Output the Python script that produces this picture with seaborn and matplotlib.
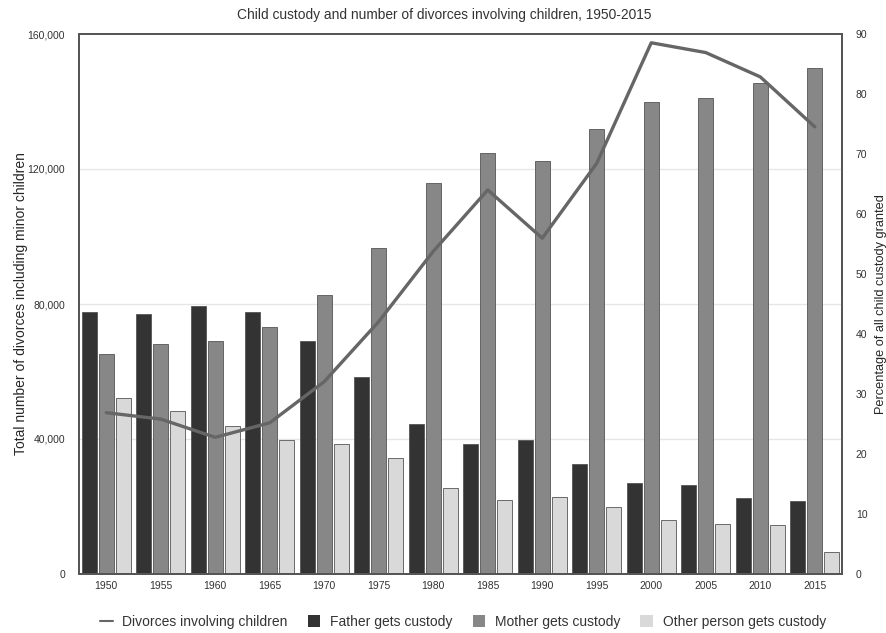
import matplotlib
matplotlib.use("Agg")
import matplotlib.pyplot as plt
from matplotlib.lines import Line2D
from matplotlib.patches import Patch
from matplotlib.ticker import FuncFormatter
import numpy as np
import pandas as pd
import seaborn as sns

years = [1950, 1955, 1960, 1965, 1970, 1975, 1980, 1985, 1990, 1995, 2000, 2005, 2010, 2015]
divorces = [47800, 45900, 40500, 44800, 57000, 74800, 95600, 113800, 99500, 121700, 157400, 154500, 147300, 132500]
father = [43.7, 43.4, 44.7, 43.7, 38.9, 32.8, 25.0, 21.6, 22.4, 18.4, 15.2, 14.8, 12.6, 12.1]
mother = [36.7, 38.3, 38.9, 41.1, 46.5, 54.3, 65.2, 70.1, 68.9, 74.1, 78.6, 79.4, 81.8, 84.3]
other = [29.3, 27.2, 24.6, 22.4, 21.6, 19.3, 14.4, 12.3, 12.9, 11.1, 9.0, 8.3, 8.2, 3.6]

groups = ["Father gets custody", "Mother gets custody", "Other person gets custody"]
line_label = "Divorces involving children"
left_ticks = [0, 40000, 80000, 120000, 160000]
right_ticks = list(range(0, 91, 10))

colors = ["#333333", "#878787", "#d9d9d9"]
line_color = "#666666"
text_color = "#333333"

sns.set_style("white")
plt.rcParams["font.family"] = ["Liberation Sans", "DejaVu Sans"]
plt.rcParams["text.color"] = text_color

df = pd.DataFrame({
    "year": years * 3,
    "group": [groups[0]] * len(years) + [groups[1]] * len(years) + [groups[2]] * len(years),
    "pct": father + mother + other,
})

fig = plt.figure(figsize=(8.87, 6.33), dpi=100)
ax_bar = fig.add_axes([79 / 887, 1 - 574 / 633, (842 - 79) / 887, (574 - 34) / 633])

sns.barplot(data=df, x="year", y="pct", hue="group", hue_order=groups,
            palette=colors, width=0.94, gap=0.14, ax=ax_bar,
            edgecolor="#555555", linewidth=0.6, legend=False, zorder=2)
ax_bar.set_ylim(0, 90)
ax_bar.set_xlim(-0.5, len(years) - 0.5)
ax_bar.set_xlabel("")

ax_line = ax_bar.twinx()
sns.lineplot(x=np.arange(len(years)), y=divorces, ax=ax_line, color=line_color, lw=2.4)
ax_line.set_ylim(0, 160000)
ax_line.set_yticks(left_ticks)
ax_line.yaxis.set_major_formatter(FuncFormatter(lambda v, p: f"{int(v):,}"))
ax_line.yaxis.tick_left()
ax_line.set_ylabel("Total number of divorces including minor children", fontsize=10)
ax_line.yaxis.set_label_coords((14 - 79) / 763, 0.5)
ax_line.tick_params(length=0, labelsize=7.5, pad=10, colors=text_color)
ax_line.grid(False)

# twinx moves the host ticks to the left, so put them back on the right
ax_bar.set_yticks(right_ticks)
ax_bar.yaxis.tick_right()
ax_bar.set_ylabel("Percentage of all child custody granted", fontsize=9.2)
ax_bar.yaxis.set_label_position("right")
ax_bar.yaxis.set_label_coords((875 - 79) / 763, 0.5)
# grid lines follow the left axis ticks
ax_bar.set_yticks([t / 160000 * 90 for t in left_ticks[1:-1]], minor=True)
ax_bar.grid(which="minor", axis="y", color="#e6e6e6", lw=1, zorder=0)
ax_bar.grid(which="major", visible=False)
ax_bar.set_axisbelow(True)
ax_bar.tick_params(which="both", length=0)
ax_bar.tick_params(axis="y", labelsize=7.5, pad=10, colors=text_color)
ax_bar.tick_params(axis="x", labelsize=7.5, pad=5, colors=text_color)

for a in (ax_bar, ax_line):
    for s in a.spines.values():
        s.set_color("#555555")
        s.set_linewidth(1.3)

fig.text(444.5 / 887, 1 - 15 / 633, "Child custody and number of divorces involving children, 1950-2015",
         ha="center", va="center", fontsize=9.9)

handles = [Line2D([0], [0], color=line_color, lw=1.5)] + \
          [Patch(facecolor=c, edgecolor="none") for c in colors]
fig.legend(handles, [line_label] + groups, loc="center", bbox_to_anchor=(463 / 887, 1 - 622 / 633),
           ncol=4, frameon=False, fontsize=10, handlelength=0.9, handleheight=0.9,
           handletextpad=0.7, columnspacing=1.45)

fig.savefig("out.png", dpi=100)
